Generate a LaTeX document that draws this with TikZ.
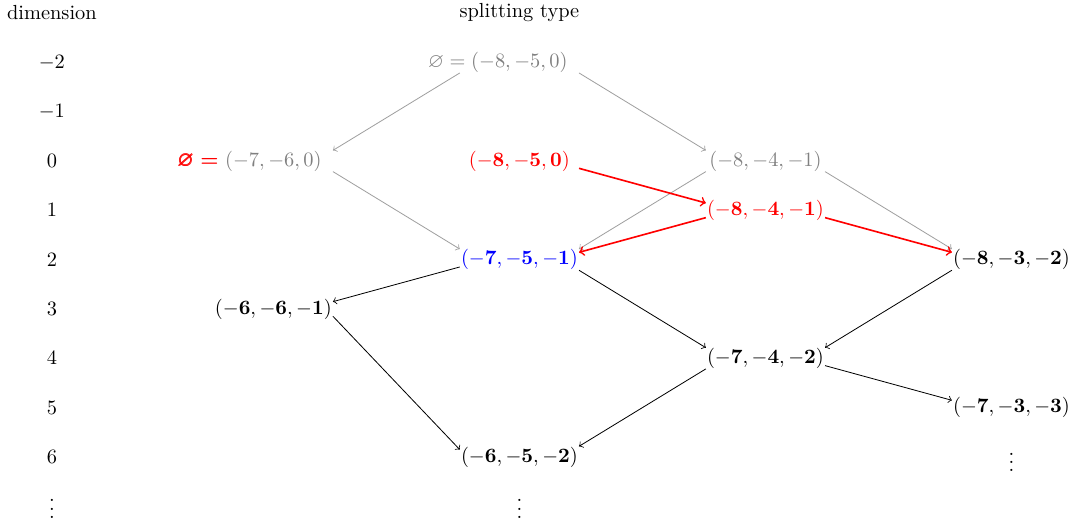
\documentclass[tikz,border=0pt]{standalone}
\usepackage{amsmath,amssymb}
\newcommand{\bt}[3]{(-\mathbf{#1},-\mathbf{#2},\mathbf{#3})}
\begin{document}
\begin{tikzpicture}[x=4.24cm,y=-.85cm,>=to,
tup/.style={minimum width=2.04cm,inner xsep=0pt,inner ysep=0pt},
old/.style={tup,text=gray},new/.style={tup},
grayarr/.style={->,gray!75},redarr/.style={->,red,thick}]
\useasboundingbox(-.211,-3.264)rectangle(4.146,7.318);
\node(dimhead)at(0,-3){dimension};\node(typehead)at(1.9,-3){splitting type};
\foreach \d[count=\i] in {-2,...,6}{\node(dim\i)at(0,\d){$\d$};}
\node(dimdots)at(0,6.93){$\vdots$};
\node[old](t850)at(1.9,-2){\llap{$\varnothing={}$}$(-8,-5,0)$};
\node[old](t760)at(.9,0){\llap{\color{red}\boldmath$\pmb{\varnothing}={}$}$(-7,-6,0)$};
\node[new,text=red](r850)at(1.9,0){$\bt{8}{5}{0}$};\node[old](t841)at(2.9,0){$(-8,-4,-1)$};
\node[new,text=red](r841)at(2.9,1){$\bt{8}{4}{-1}$};
\node[new,text=blue](b751)at(1.9,2){$\bt{7}{5}{-1}$};\node[new](t832)at(3.9,2){$\bt{8}{3}{-2}$};
\node[new](t661)at(.9,3){$\bt{6}{6}{-1}$};\node[new](t742)at(2.9,4){$\bt{7}{4}{-2}$};
\node[new](t733)at(3.9,5){$\bt{7}{3}{-3}$};\node[new](t652)at(1.9,6){$\bt{6}{5}{-2}$};
\node(rdots)at(3.9,5.98){$\vdots$};\node(mdots)at(1.9,6.93){$\vdots$};
\draw[grayarr](t850.south west)--(t760.north east);\draw[grayarr](t850.south east)--(t841.north west);
\draw[grayarr](t760.south east)--(b751.north west);\draw[grayarr](t841.south west)--(b751.north east);
\draw[grayarr](t841.south east)--(t832.north west);
\draw[redarr](r850.-7)--(r841.173);\draw[redarr](r841.187)--(b751.7);\draw[redarr](r841.-7)--(t832.173);
\draw[->](b751.187)--(t661.7);\draw[->](b751.south east)--(t742.north west);
\draw[->](t832.south west)--(t742.north east);\draw[->](t742.-7)--(t733.173);
\draw[->](t661.-7)--(t652.173);\draw[->](t742.south west)--(t652.north east);
\end{tikzpicture}
\end{document}
